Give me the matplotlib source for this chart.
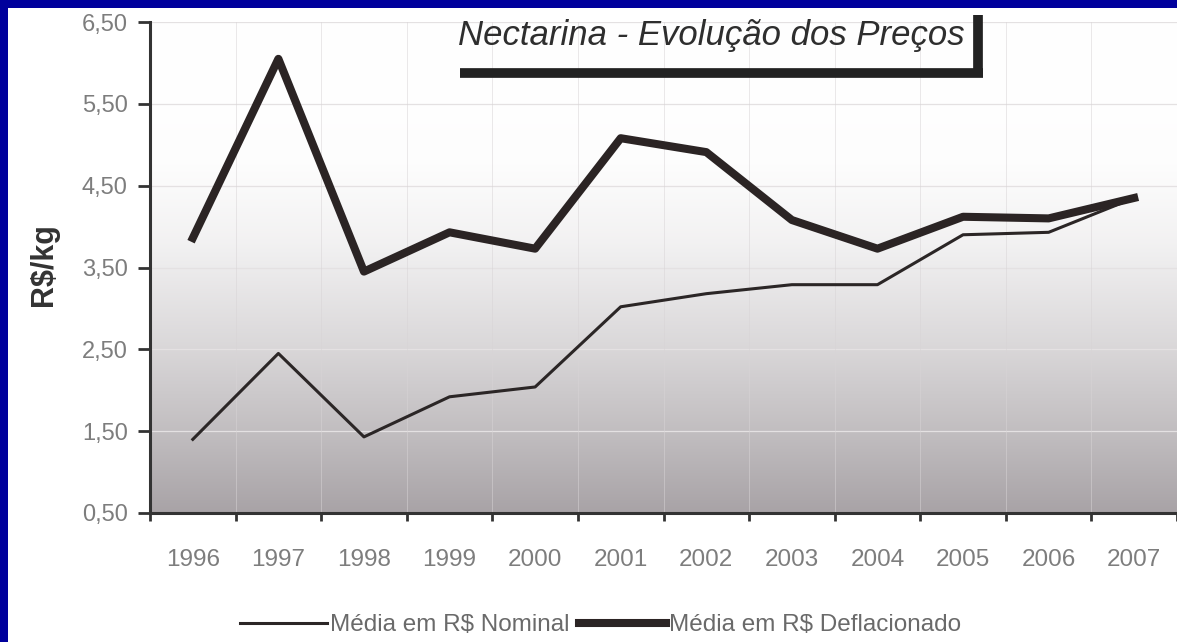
import matplotlib
matplotlib.use('Agg')
import matplotlib.pyplot as plt
import numpy as np
from matplotlib.lines import Line2D
from matplotlib.patches import Rectangle

# Dados
anos = ['1996', '1997', '1998', '1999', '2000', '2001',
        '2002', '2003', '2004', '2005', '2006', '2007']
nominal = [1.40, 2.45, 1.43, 1.92, 2.04, 3.02, 3.18, 3.29, 3.29, 3.90, 3.93, 4.35]
deflacionado = [3.86, 6.05, 3.45, 3.93, 3.73, 5.08, 4.91, 4.08, 3.73, 4.12, 4.10, 4.35]
y_ticks = [0.5, 1.5, 2.5, 3.5, 4.5, 5.5, 6.5]
y_labels = ['0,50', '1,50', '2,50', '3,50', '4,50', '5,50', '6,50']

plt.rcParams['font.family'] = ['Liberation Sans', 'DejaVu Sans']

W, H = 1177, 642
fig = plt.figure(figsize=(W / 100, H / 100), dpi=100, facecolor='#00009c')
# papel branco (borda azul so em cima e a esquerda)
fig.add_artist(Rectangle((8 / W, 0), 1, 1 - 8 / H, transform=fig.transFigure,
                         facecolor='white', edgecolor='none', zorder=-5))

ax = fig.add_axes([150 / W, 1 - 513 / H, 1027 / W, (513 - 22) / H])
ax.set_facecolor('none')

# fundo em degrade (cinza embaixo, branco em cima)
t = np.linspace(0, 1, 256)
g = np.interp(t, [0, 0.15, 0.35, 0.55, 0.72, 1], [0.66, 0.75, 0.86, 0.95, 0.995, 1.0])
grad = np.dstack([g, g - (1 - g) * 0.06, g - (1 - g) * 0.02]).reshape(256, 1, 3)
ax.imshow(grad, extent=[0, 1, 0, 1], transform=ax.transAxes, aspect='auto',
          origin='lower', zorder=0)

x = np.arange(len(anos))
ax.plot(x, nominal, color='#2b2626', lw=2.2, zorder=3)
ax.plot(x, deflacionado, color='#2b2424', lw=5.8, zorder=4)

ax.set_xlim(-0.5, 11.5)
ax.set_ylim(0.5, 6.5)

for v in y_ticks[1:]:
    ax.axhline(v, color='#e4e1e2', lw=0.9, zorder=1)
for b in np.arange(0.5, 11.5, 1):
    ax.axvline(b, color='#d8d4d6', lw=0.6, alpha=0.6, zorder=1)

ax.set_xticks(x)
ax.set_xticklabels(anos)
ax.set_xticks(np.arange(-0.5, 12, 1), minor=True)
ax.tick_params(axis='x', which='major', length=0, pad=26, labelsize=17.5, labelcolor='#7d7d7d')
ax.tick_params(axis='x', which='minor', length=6, width=2, color='#333333', direction='out')
ax.set_yticks(y_ticks)
ax.set_yticklabels(y_labels)
ax.tick_params(axis='y', length=9, width=2, color='#333333', pad=7, labelsize=17,
               labelcolor='#7d7d7d')

for s in ['top', 'right']:
    ax.spines[s].set_visible(False)
for s in ['left', 'bottom']:
    ax.spines[s].set_color('#333333')
    ax.spines[s].set_linewidth(2.2)

fig.text(44 / W, 1 - 265 / H, 'R$/kg', rotation=90, fontsize=22, ha='center',
         va='center', color='#333333', weight='bold')

# titulo com sombra
fig.text(711 / W, 1 - 36 / H, 'Nectarina - Evolução dos Preços', ha='center', va='center',
         fontsize=25, style='italic', color='#2e2e2e')
fig.add_artist(Line2D([460 / W, 983 / W], [1 - 73 / H, 1 - 73 / H], transform=fig.transFigure,
                      color='#222222', lw=7, solid_capstyle='butt'))
fig.add_artist(Line2D([978 / W, 978 / W], [1 - 15 / H, 1 - 77 / H], transform=fig.transFigure,
                      color='#222222', lw=7, solid_capstyle='butt'))

handles = [Line2D([], [], color='#2b2626', lw=2.2), Line2D([], [], color='#2b2424', lw=5.8)]
leg = fig.legend(handles, ['Média em R$ Nominal', 'Média em R$ Deflacionado'],
                 loc='center', bbox_to_anchor=(0.51, 1 - 625 / H), ncol=2, frameon=False,
                 handlelength=3.6, handletextpad=0.1, columnspacing=0.4, fontsize=17.5)
for txt in leg.get_texts():
    txt.set_color('#6a6a6a')

fig.savefig('out.png', dpi=100, facecolor=fig.get_facecolor())
